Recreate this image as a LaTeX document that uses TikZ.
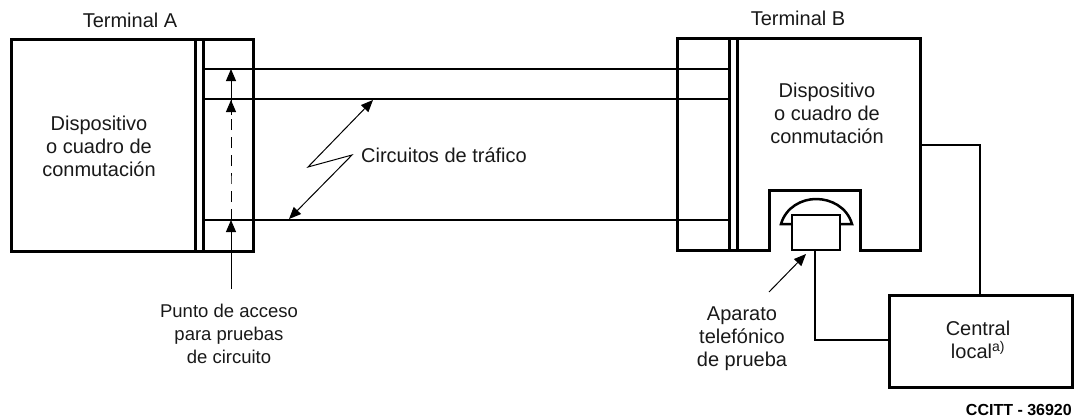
\documentclass[tikz,border=0pt]{standalone}
\usepackage{fontspec}
\setmainfont{Liberation Sans}
\usetikzlibrary{arrows.meta}
\tikzset{
  boxline/.style={line width=3pt,line join=miter},
  wire/.style={line width=2.5pt,line join=miter},
  circuit/.style={line width=1.9pt},
  fine/.style={line width=1pt},
  tip/.style={-{Triangle[length=12pt,width=10pt]}},
  lbl/.style={align=center,font=\fontsize{20}{23}\selectfont,inner sep=0pt,text=black!90},
  code/.style={font=\bfseries\fontsize{16}{18}\selectfont,inner sep=0pt}
}
\begin{document}
\begin{tikzpicture}[x=1pt,y=-1pt]
\useasboundingbox (0,0) rectangle (1077,418);
% Terminal A
\draw[boxline] (11,39) rectangle (253,251);
\draw[boxline] (195,39) -- (195,251);
\draw[boxline] (203,39) -- (203,251);
% Terminal B
\draw[boxline] (769,250) -- (677,250) -- (677,38) -- (920,38) -- (920,250) -- (860,250) -- (860,190) -- (769,190) -- cycle;
\draw[boxline] (729,38) -- (729,250);
\draw[boxline] (737,38) -- (737,250);
% named points
\coordinate (a1) at (203,69);  \coordinate (b1) at (729,69);
\coordinate (a2) at (203,99);  \coordinate (b2) at (729,99);
\coordinate (a3) at (203,220); \coordinate (b3) at (729,220);
\draw[circuit] (a1) -- (b1);
\draw[circuit] (a2) -- (b2);
\draw[circuit] (a3) -- (b3);
% access arrows
\coordinate (acc0) at (231,289); \coordinate (acc1) at (231,220);
\coordinate (acc2) at (231,178); \coordinate (acc3) at (231,100);
\coordinate (acc4) at (231,69);
\draw[fine,tip] (acc0) -- (acc1);
\draw[fine,dash pattern=on 11pt off 7pt] (acc1) -- (acc2) -- (231,115);
\draw[fine,tip] (231,115) -- (acc3);
\draw[fine,tip] (231,105) -- (acc4);
% zigzag
\coordinate (z1) at (373,100); \coordinate (z2) at (308,167);
\coordinate (z3) at (352,155); \coordinate (z4) at (289,219);
\draw[fine,{Triangle[length=12pt,width=10pt]}-{Triangle[length=12pt,width=10pt]},line join=miter] (z1) -- (z2) -- (z3) -- (z4);
% phone
\node[draw,wire,minimum width=48pt,minimum height=35pt,inner sep=0pt] (tel) at (816,232.5) {};
\draw[wire] (792,224) -- (781,224) .. controls (786,207) and (802,199) .. (816,199) .. controls (831,199) and (847,207) .. (852,224) -- (840,224);
\coordinate (telarrow) at (806,254); \coordinate (telfrom) at (769,292);
\draw[fine,tip] (telfrom) -- (telarrow);
% central
\node[draw,boxline,minimum width=183pt,minimum height=92pt,inner sep=0pt] (central) at (980.5,341) {};
\draw[wire] (815,250) -- (815,340) -- (central.west |- 0,340);
\draw[wire] (920,145) -- (980,145) -- (central.north -| 980,0);
% labels
\node[lbl] (ta) at (130,20) {Terminal A};
\node[lbl] (tb) at (798,18) {Terminal B};
\node[lbl] (da) at (99,146) {Dispositivo\\o cuadro de\\conmutación};
\node[lbl] (db) at (827,113) {Dispositivo\\o cuadro de\\conmutación};
\node[lbl] (ct) at (444,155) {Circuitos de tráfico};
\node[lbl,font=\fontsize{18.5}{23}\selectfont] (pa) at (229,334) {Punto de acceso\\para pruebas\\de circuito};
\node[lbl] (ap) at (742,339) {Aparato\\telefónico\\de prueba};
\node[lbl] (cl) at (978,340) {Central\\local\textsuperscript{a)}};
\node[code,anchor=east] (cc) at (1072,410) {CCITT - 36920};
\end{tikzpicture}
\end{document}
